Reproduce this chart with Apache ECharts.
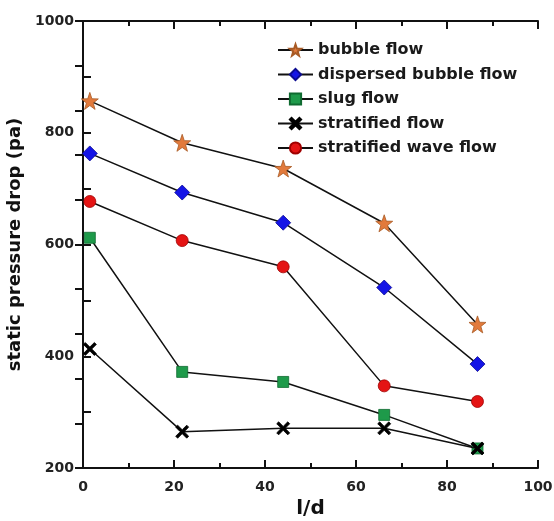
<!DOCTYPE html>
<html>
<head>
<meta charset="utf-8">
<script src="https://cdn.jsdelivr.net/npm/echarts@6/dist/echarts.min.js"></script>
<style>html,body{margin:0;padding:0;background:#fff}#c{width:554px;height:521px}</style>
</head>
<body>
<div id="c"></div>
<script>
var xValues = [1.5, 21.8, 44, 66.2, 86.7];
var seriesNames = ['bubble flow', 'dispersed bubble flow', 'slug flow', 'stratified flow', 'stratified wave flow'];
var bubbleFlow = [857, 782, 736, 638, 457];
var dispersedBubbleFlow = [763, 693, 639, 523, 386];
var slugFlow = [612, 372, 354, 295, 235];
var stratifiedFlow = [413, 265, 271, 271, 235];
var stratifiedWaveFlow = [677, 607, 560, 347, 319];
var xTicks = [0, 20, 40, 60, 80, 100];
var yTicks = [200, 400, 600, 800, 1000];

var STAR = 'path://M50,0 L61.76,33.82 L97.55,34.55 L69.02,56.18 L79.39,90.45 L50,70 L20.61,90.45 L30.98,56.18 L2.45,34.55 L38.24,33.82 Z';
var CROSS = 'path://M0,1.5 L1.5,0 L5,3.5 L8.5,0 L10,1.5 L6.5,5 L10,8.5 L8.5,10 L5,6.5 L1.5,10 L0,8.5 L3.5,5 Z';

function pairs(ys){ return xValues.map(function(x,i){ return [x, ys[i]]; }); }

var styles = [
  {data: bubbleFlow, symbol: STAR, size: 17, color: '#E27A3C', border: '#A85A24'},
  {data: dispersedBubbleFlow, symbol: 'diamond', size: 15, color: '#1414E6', border: '#0A0A90'},
  {data: slugFlow, symbol: 'rect', size: 11, color: '#1E9A4A', border: '#0F6A30'},
  {data: stratifiedFlow, symbol: CROSS, size: 13, color: '#000000', border: '#000000'},
  {data: stratifiedWaveFlow, symbol: 'circle', size: 12, color: '#E41414', border: '#A00000'}
];

var font = 'DejaVu Sans';
var chart = echarts.init(document.getElementById('c'));
chart.setOption({
  animation: false,
  backgroundColor: '#fff',
  grid: {left: 83, right: 16, top: 21, bottom: 53, containLabel: false, outerBoundsMode: 'none'},
  legend: {
    orient: 'vertical', left: 272, top: 37, itemWidth: 35, itemHeight: 14, itemGap: 8.5,
    textStyle: {fontFamily: font, fontWeight: 'bold', fontSize: 16, color: '#1a1a1a'},
    data: seriesNames
  },
  xAxis: [{
    type: 'value', min: xTicks[0], max: xTicks[xTicks.length-1], interval: 20, position: 'bottom',
    name: 'l/d', nameLocation: 'middle', nameGap: 26,
    nameTextStyle: {fontFamily: font, fontWeight: 'bold', fontSize: 20, color: '#111'},
    axisLine: {show: true, lineStyle: {color: '#111', width: 2}},
    axisTick: {show: true, inside: true, length: 8, lineStyle: {color: '#111', width: 2}},
    minorTick: {show: true, splitNumber: 2, length: 5, lineStyle: {color: '#111', width: 2}},
    axisLabel: {fontFamily: font, fontWeight: 'bold', fontSize: 14, color: '#222', margin: 12,
      formatter: function(v){ return String(v); }},
    splitLine: {show: false}
  }, {
    type: 'value', min: 0, max: 100, interval: 20, position: 'top',
    axisLine: {show: true, lineStyle: {color: '#111', width: 2}},
    axisTick: {show: true, inside: true, length: 8, lineStyle: {color: '#111', width: 2}},
    minorTick: {show: true, splitNumber: 2, length: 5, lineStyle: {color: '#111', width: 2}},
    axisLabel: {show: false}, splitLine: {show: false}
  }],
  yAxis: [{
    type: 'value', min: yTicks[0], max: yTicks[yTicks.length-1], interval: 200, position: 'left',
    name: 'static pressure drop (pa)', nameLocation: 'middle', nameGap: 41,
    nameTextStyle: {fontFamily: font, fontWeight: 'bold', fontSize: 18, color: '#111'},
    axisLine: {show: true, lineStyle: {color: '#111', width: 2}},
    axisTick: {show: true, inside: true, length: 8, lineStyle: {color: '#111', width: 2}},
    minorTick: {show: true, splitNumber: 2, length: 8, lineStyle: {color: '#111', width: 2}},
    axisLabel: {fontFamily: font, fontWeight: 'bold', fontSize: 14, color: '#222', margin: 9,
      formatter: function(v){ return String(v); }},
    splitLine: {show: false}
  }, {
    type: 'value', min: 0, max: 10, interval: 1, position: 'right',
    axisLine: {show: true, lineStyle: {color: '#111', width: 2}},
    axisTick: {show: true, inside: true, length: 8, lineStyle: {color: '#111', width: 2}},
    axisLabel: {show: false}, splitLine: {show: false}
  }],
  series: styles.map(function(s, i){
    return {
      name: seriesNames[i], type: 'line', xAxisIndex: 0, yAxisIndex: 0,
      data: pairs(s.data), symbol: s.symbol, symbolSize: s.size,
      lineStyle: {color: '#111', width: 1.5},
      itemStyle: {color: s.color, borderColor: s.border, borderWidth: 0.8},
      z: 3 + i
    };
  })
});
</script>
</body>
</html>
